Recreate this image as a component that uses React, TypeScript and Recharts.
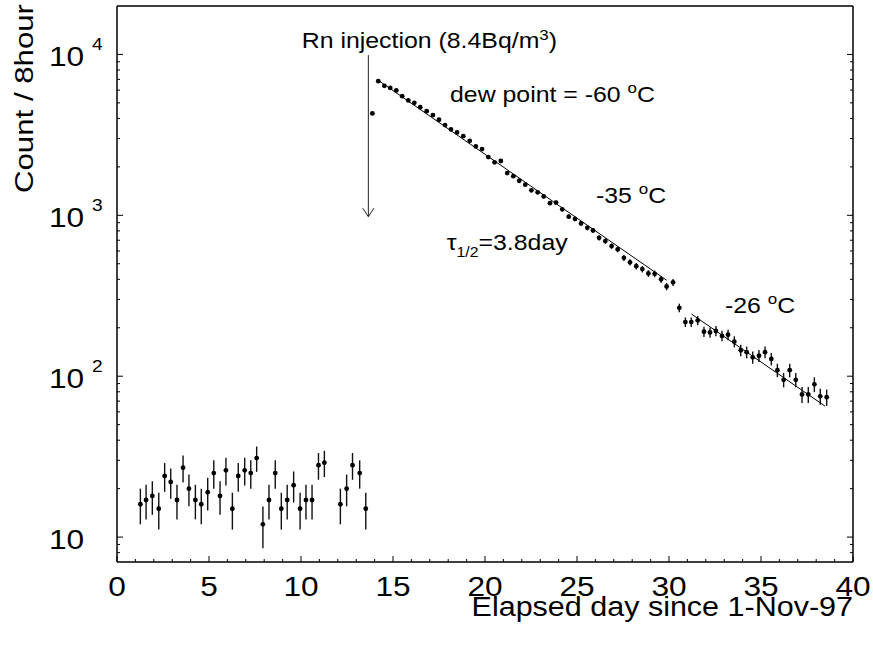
import React from 'react';
import {
  ScatterChart,
  Scatter,
  XAxis,
  YAxis,
  ErrorBar,
  ReferenceLine,
  ReferenceDot,
} from 'recharts';

// ---- data (day since 1-Nov-97, counts per 8 hours) ----
const bgDays = [
  1.27, 1.58, 1.92, 2.27, 2.59, 2.92, 3.26, 3.59, 3.91, 4.26, 4.58, 4.93, 5.26, 5.6, 5.92,
  6.27, 6.59, 6.94, 7.27, 7.59, 7.93, 8.26, 8.6, 8.93, 9.25, 9.6, 9.95, 10.27, 10.6, 10.95,
  11.27, 12.14, 12.48, 12.8, 13.19, 13.52,
];
const bgCounts = [
  16, 17, 18, 15, 24, 22, 17, 27, 20, 17, 16, 19, 25, 18, 26, 15, 24, 26, 25, 31, 12, 17, 25,
  15, 17, 21, 15, 17, 17, 28, 29, 16, 20, 28, 25, 15,
];

const decayDays = [
  13.88, 14.2, 14.53, 14.85, 15.18, 15.5, 15.83, 16.16, 16.48, 16.83, 17.17, 17.5, 17.83,
  18.15, 18.48, 18.82, 19.17, 19.5, 19.84, 20.18, 20.52, 20.86, 21.21, 21.54, 21.86, 22.19,
  22.52, 22.86, 23.19, 23.53, 23.86, 24.2, 24.55, 24.89, 25.22, 25.56, 25.87, 26.2, 26.54,
  26.88, 27.21, 27.55, 27.88, 28.22, 28.55, 28.88, 29.22, 29.57, 29.87, 30.22,
];
const decayCounts = [
  4300, 6820, 6380, 6190, 5970, 5500, 5180, 5000, 4700, 4440, 4200, 3925, 3640, 3420, 3275,
  3105, 2905, 2680, 2580, 2300, 2135, 2175, 1830, 1750, 1640, 1550, 1430, 1390, 1310, 1190,
  1200, 1090, 980, 950, 890, 836, 805, 725, 692, 644, 614, 544, 510, 483, 463, 435, 433, 400,
  361, 383,
];

const lateDays = [
  30.56, 30.89, 31.21, 31.56, 31.9, 32.23, 32.55, 32.88, 33.21, 33.55, 33.9, 34.22, 34.55,
  34.89, 35.22, 35.56, 35.89, 36.23, 36.56, 36.89, 37.23, 37.57, 37.9, 38.22, 38.57,
];
const lateCounts = [
  266, 217, 217, 222, 189, 187, 191, 178, 181, 164, 145, 141, 131, 134, 141, 128, 109, 95, 109,
  95, 77, 77, 89, 75, 74,
];

const fitEarlyDays = [14.2, 29.87];
const fitEarlyCounts = [6900, 395];
const fitLateDays = [31.23, 38.49];
const fitLateCounts = [243, 65];

// annotation anchor points (day, count)
const arrowDay = 13.66;
const arrowTopCount = 9900;
const arrowTipCount = 980;
const rnNote = { x: 10.04, y: 10900 };
const dewNote = { x: 18.1, y: 5070 };
const c35Note = { x: 26.03, y: 1197 };
const tauNote = { x: 17.92, y: 608 };
const c26Note = { x: 33.04, y: 248 };

const xTicks = [
  0, 1, 2, 3, 4, 5, 6, 7, 8, 9, 10, 11, 12, 13, 14, 15, 16, 17, 18, 19, 20, 21, 22, 23, 24, 25,
  26, 27, 28, 29, 30, 31, 32, 33, 34, 35, 36, 37, 38, 39, 40,
];
const yTicks = [
  8, 9, 10, 20, 30, 40, 50, 60, 70, 80, 90, 100, 200, 300, 400, 500, 600, 700, 800, 900, 1000,
  2000, 3000, 4000, 5000, 6000, 7000, 8000, 9000, 10000,
];
const yMajor = [10, 100, 1000, 10000];

const mk = (d: number[], c: number[]) =>
  d.map((x, i) => ({ x, y: c[i], err: Math.sqrt(c[i]) }));
const bgData = mk(bgDays, bgCounts);
const decayData = mk(decayDays, decayCounts);
const lateData = mk(lateDays, lateCounts);
const fitEarly = fitEarlyDays.map((x, i) => ({ x, y: fitEarlyCounts[i] }));
const fitLate = fitLateDays.map((x, i) => ({ x, y: fitLateCounts[i] }));

const FONT = "'Liberation Sans', Arial, Helvetica, sans-serif";
const SX = 1.13;

const BottomTick = (p: any) => {
  const v = p.payload.value;
  const major = v % 5 === 0;
  return (
    <g>
      <line x1={p.x} x2={p.x} y1={p.y} y2={p.y - (major ? 6 : 3)} stroke="#000" strokeWidth={1} />
      {major ? (
        <text
          transform={`translate(${p.x},${p.y + 34}) scale(${SX},1)`}
          textAnchor="middle"
          fontSize={28}
          fontFamily={FONT}
          fill="#000"
        >
          {v}
        </text>
      ) : null}
    </g>
  );
};

const TopTick = (p: any) => {
  const v = p.payload.value;
  const major = v % 5 === 0;
  return <line x1={p.x} x2={p.x} y1={p.y} y2={p.y + (major ? 6 : 3)} stroke="#000" strokeWidth={1} />;
};

const LeftTick = (p: any) => {
  const v = p.payload.value;
  const major = yMajor.includes(v);
  const e = Math.round(Math.log10(v));
  return (
    <g>
      <line x1={p.x} x2={p.x + (major ? 6 : 3)} y1={p.y} y2={p.y} stroke="#000" strokeWidth={1} />
      {major ? (
        <text
          transform={`translate(49,${p.y + 11.5}) scale(${SX},1)`}
          fontSize={28}
          fontFamily={FONT}
          fill="#000"
        >
          10
          {e > 1 ? (
            <tspan dx={7} dy={-15.5} fontSize={17}>
              {e}
            </tspan>
          ) : null}
        </text>
      ) : null}
    </g>
  );
};

const RightTick = (p: any) => {
  const v = p.payload.value;
  const major = yMajor.includes(v);
  return <line x1={p.x} x2={p.x - (major ? 6 : 3)} y1={p.y} y2={p.y} stroke="#000" strokeWidth={1} />;
};

const Dot = (p: any) => <circle cx={p.cx} cy={p.cy} r={2.4} fill="#000" />;
const NoDot = () => <g />;

const note = (content: React.ReactNode) => (p: any) =>
  (
    <text
      transform={`translate(${p.cx},${p.cy}) scale(${SX},1)`}
      fontSize={22}
      fontFamily={FONT}
      fill="#000"
    >
      {content}
    </text>
  );

const ArrowHead = (p: any) => (
  <path
    d={`M${p.cx - 5.5},${p.cy - 8.5} L${p.cx},${p.cy} L${p.cx + 5.5},${p.cy - 8.5}`}
    stroke="#222"
    strokeWidth={1}
    fill="none"
  />
);

const XTitle = (p: any) => {
  const vb = p.viewBox || { x: 117, y: 562, width: 736 };
  return (
    <text
      transform={`translate(${vb.x + vb.width},${vb.y + 54}) scale(${SX},1)`}
      textAnchor="end"
      fontSize={27}
      fontFamily={FONT}
      fill="#000"
    >
      Elapsed day since 1-Nov-97
    </text>
  );
};

const YTitle = (p: any) => {
  const vb = p.viewBox || { x: 37, y: 6 };
  return (
    <text
      transform={`translate(${vb.x - 4},${vb.y + 187}) rotate(-90) scale(1.2,1)`}
      fontSize={26}
      fontFamily={FONT}
      fill="#000"
    >
      Count / 8hour
    </text>
  );
};

export default function App() {
  return (
    <div style={{ position: 'absolute', left: 0, top: 0, background: '#fff' }}>
      <ScatterChart width={873} height={648} margin={{ top: 5, right: 19, bottom: 26, left: 37 }}>
        <XAxis
          dataKey="x"
          type="number"
          domain={[0, 40]}
          ticks={xTicks}
          interval={0}
          allowDataOverflow
          height={60}
          tickSize={0}
          tickMargin={0}
          tick={BottomTick}
          axisLine={{ stroke: '#000', strokeWidth: 1.5 }}
          tickLine={false}
          label={XTitle}
        />
        <XAxis
          xAxisId="top"
          orientation="top"
          type="number"
          domain={[0, 40]}
          ticks={xTicks}
          interval={0}
          allowDataOverflow
          height={1}
          tickSize={0}
          tickMargin={0}
          tick={TopTick}
          axisLine={{ stroke: '#000', strokeWidth: 1.5 }}
          tickLine={false}
        />
        <YAxis
          dataKey="y"
          type="number"
          scale="log"
          domain={[7, 20000]}
          ticks={yTicks}
          interval={0}
          allowDataOverflow
          width={80}
          tickSize={0}
          tickMargin={0}
          tick={LeftTick}
          axisLine={{ stroke: '#000', strokeWidth: 1.5 }}
          tickLine={false}
          label={YTitle}
        />
        <YAxis
          yAxisId="right"
          orientation="right"
          type="number"
          scale="log"
          domain={[7, 20000]}
          ticks={yTicks}
          interval={0}
          allowDataOverflow
          width={1}
          tickSize={0}
          tickMargin={0}
          tick={RightTick}
          axisLine={{ stroke: '#000', strokeWidth: 1.5 }}
          tickLine={false}
        />
        <Scatter data={fitEarly} line={{ stroke: '#000', strokeWidth: 1 }} shape={NoDot} isAnimationActive={false} />
        <Scatter data={fitLate} line={{ stroke: '#000', strokeWidth: 1 }} shape={NoDot} isAnimationActive={false} />
        <Scatter data={bgData} shape={Dot} isAnimationActive={false}>
          <ErrorBar dataKey="err" direction="y" width={0} stroke="#111" strokeWidth={1.4} isAnimationActive={false} />
        </Scatter>
        <Scatter data={decayData} shape={Dot} isAnimationActive={false}>
          <ErrorBar dataKey="err" direction="y" width={0} stroke="#111" strokeWidth={1.4} isAnimationActive={false} />
        </Scatter>
        <Scatter data={lateData} shape={Dot} isAnimationActive={false}>
          <ErrorBar dataKey="err" direction="y" width={0} stroke="#111" strokeWidth={1.4} isAnimationActive={false} />
        </Scatter>
        <ReferenceLine
          segment={[
            { x: arrowDay, y: arrowTopCount },
            { x: arrowDay, y: arrowTipCount },
          ]}
          stroke="#222"
          strokeWidth={1}
        />
        <ReferenceDot x={arrowDay} y={arrowTipCount} r={0} shape={ArrowHead} />
        <ReferenceDot
          x={rnNote.x}
          y={rnNote.y}
          r={0}
          shape={note(
            <>
              Rn injection (8.4Bq/m
              <tspan dy={-8} fontSize={15}>
                3
              </tspan>
              <tspan dy={8}>)</tspan>
            </>
          )}
        />
        <ReferenceDot
          x={dewNote.x}
          y={dewNote.y}
          r={0}
          shape={note(
            <>
              dew point = -60{' '}
              <tspan dy={-9} fontSize={15}>
                o
              </tspan>
              <tspan dy={9}>C</tspan>
            </>
          )}
        />
        <ReferenceDot
          x={c35Note.x}
          y={c35Note.y}
          r={0}
          shape={note(
            <>
              -35{' '}
              <tspan dy={-9} fontSize={15}>
                o
              </tspan>
              <tspan dy={9}>C</tspan>
            </>
          )}
        />
        <ReferenceDot
          x={tauNote.x}
          y={tauNote.y}
          r={0}
          shape={note(
            <>
              τ
              <tspan dy={7} fontSize={14}>
                1/2
              </tspan>
              <tspan dy={-7}>=3.8day</tspan>
            </>
          )}
        />
        <ReferenceDot
          x={c26Note.x}
          y={c26Note.y}
          r={0}
          shape={note(
            <>
              -26{' '}
              <tspan dy={-9} fontSize={15}>
                o
              </tspan>
              <tspan dy={9}>C</tspan>
            </>
          )}
        />
      </ScatterChart>
    </div>
  );
}
